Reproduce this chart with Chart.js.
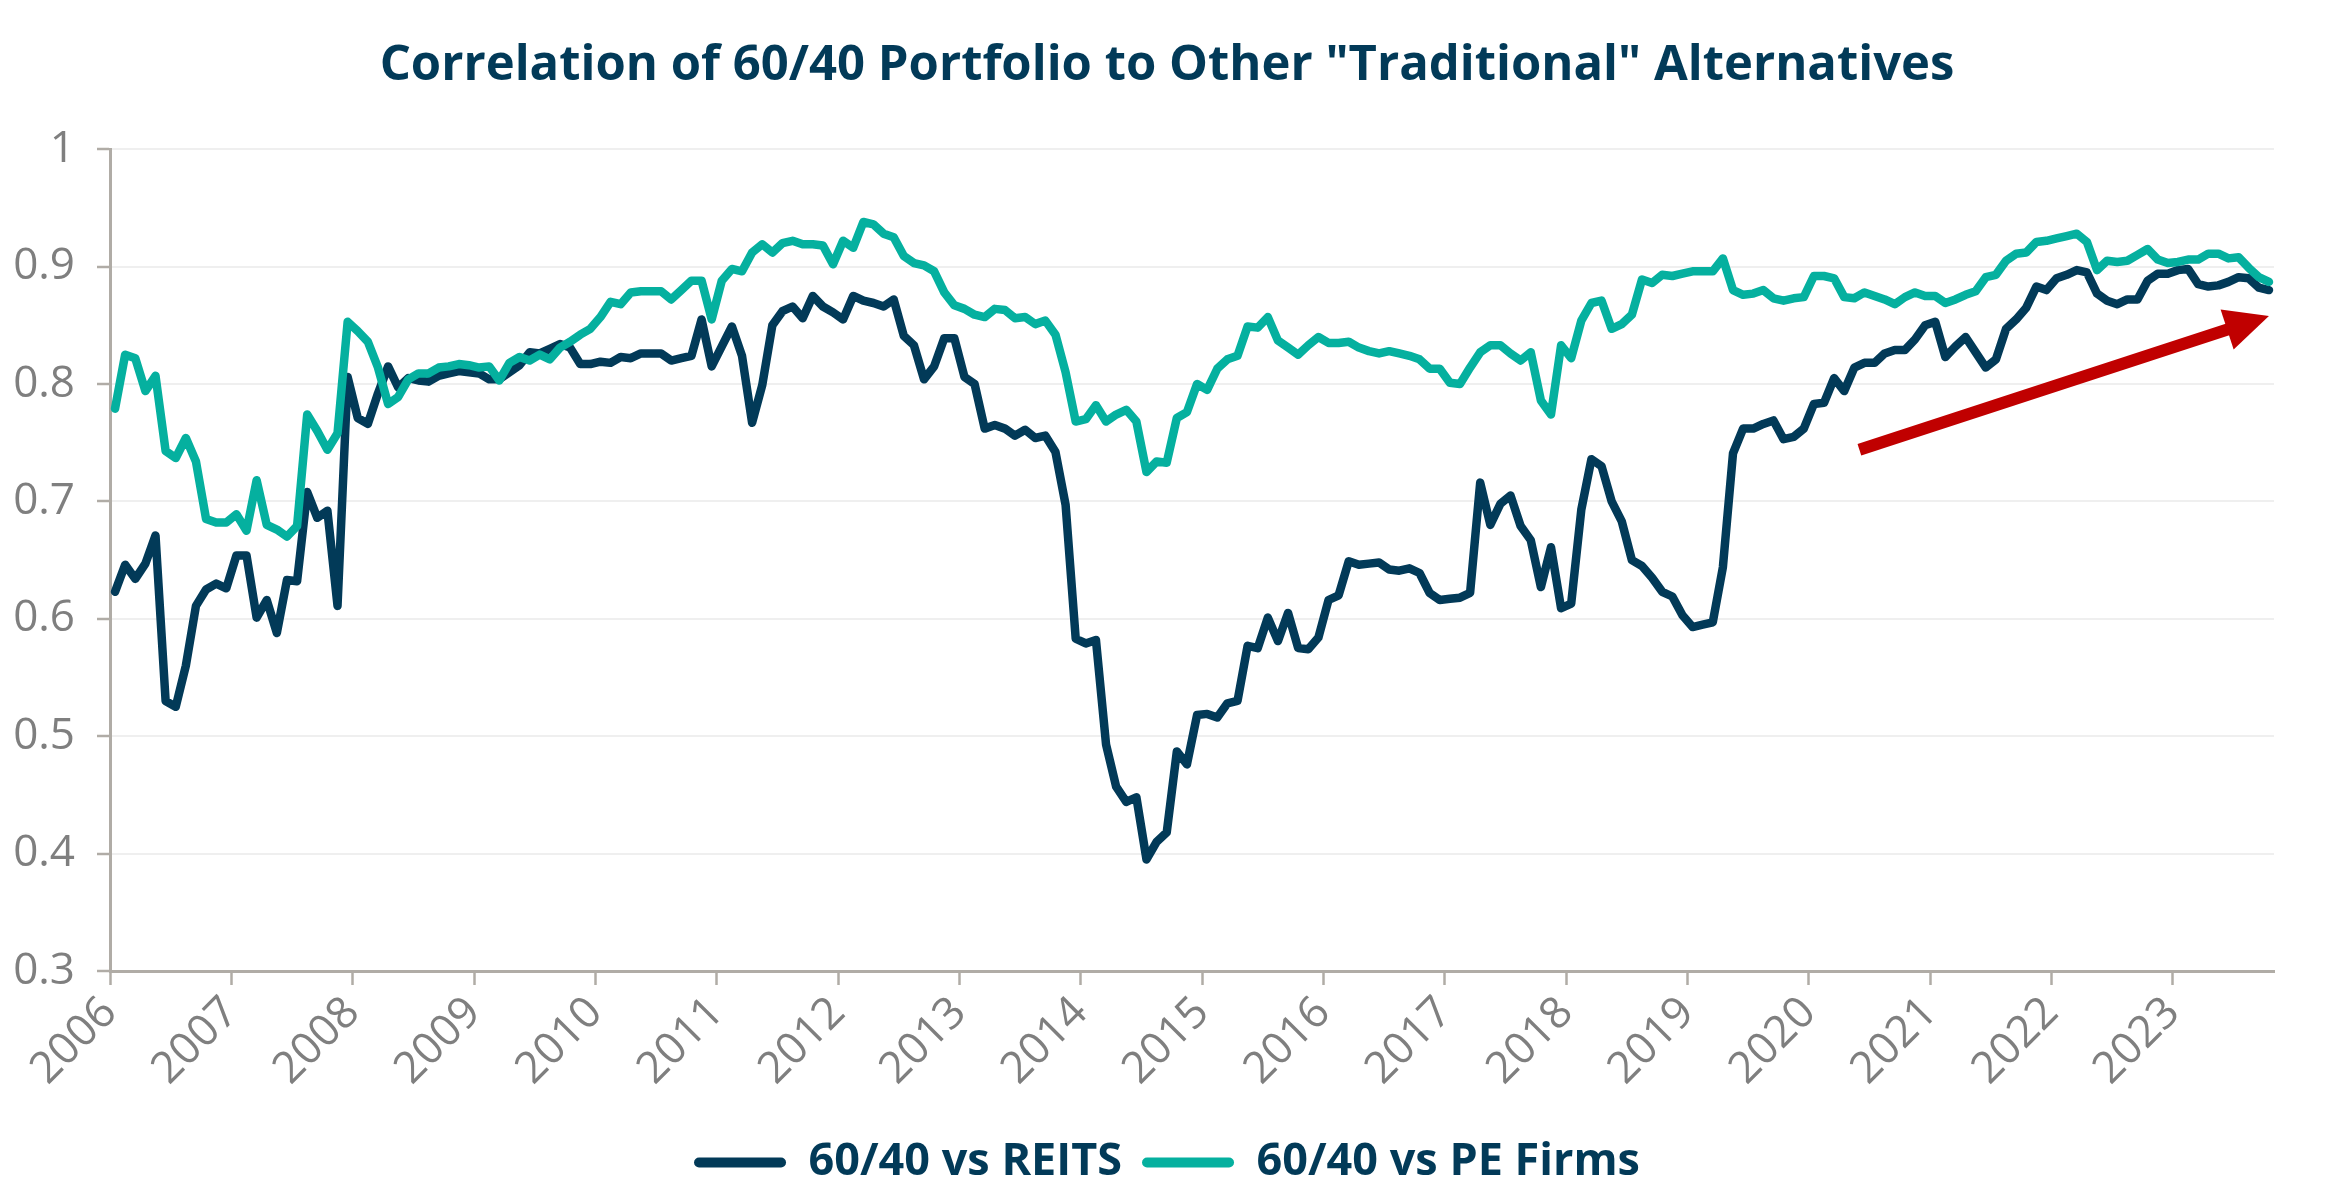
<!DOCTYPE html>
<html>
<head>
<meta charset="utf-8">
<script src="https://cdn.jsdelivr.net/npm/chart.js@4.4.0/dist/chart.umd.min.js"></script>
<style>
html, body { margin: 0; padding: 0; background: #ffffff; }
#wrap { width: 2334px; height: 1203px; }
</style>
</head>
<body>
<div id="wrap"><canvas id="chartCanvas" width="2334" height="1203"></canvas></div>
<script>
// year ticks sit on month offsets from Jan 2006
const yearLabels = ['2006','2007','2008','2009','2010','2011','2012','2013','2014',
                    '2015','2016','2017','2018','2019','2020','2021','2022','2023'];
const yearTicks = [0,12,24,36,48,60,72,84,96,108,120,132,144,156,168,180,192,204];

const yTicks = [0.3,0.4,0.5,0.6,0.7,0.8,0.9,1];
const yTickLabels = ['0.3','0.4','0.5','0.6','0.7','0.8','0.9','1'];

// monthly values, Jan 2006 .. Oct 2023
const reits = [
  0.623,0.646,0.634,0.647,0.671,0.530,0.525,0.560,0.611,0.625,0.630,0.626,
  0.654,0.654,0.601,0.616,0.588,0.633,0.632,0.708,0.686,0.692,0.611,0.806,
  0.771,0.766,0.792,0.815,0.797,0.805,0.803,0.802,0.807,0.809,0.811,0.810,
  0.809,0.804,0.804,0.810,0.816,0.827,0.826,0.830,0.834,0.831,0.817,0.817,
  0.819,0.818,0.823,0.822,0.826,0.826,0.826,0.820,0.822,0.824,0.855,0.815,
  0.832,0.849,0.824,0.767,0.799,0.850,0.862,0.866,0.856,0.875,0.866,0.861,
  0.855,0.875,0.871,0.869,0.866,0.872,0.841,0.833,0.804,0.815,0.839,0.839,
  0.806,0.800,0.762,0.765,0.762,0.756,0.761,0.754,0.756,0.742,0.697,0.583,
  0.579,0.582,0.493,0.457,0.444,0.448,0.395,0.410,0.418,0.487,0.476,0.518,
  0.519,0.516,0.528,0.530,0.577,0.575,0.601,0.581,0.605,0.575,0.574,0.584,
  0.616,0.620,0.649,0.646,0.647,0.648,0.642,0.641,0.643,0.639,0.622,0.616,
  0.617,0.618,0.622,0.716,0.680,0.698,0.705,0.679,0.667,0.627,0.661,0.609,
  0.613,0.693,0.736,0.730,0.700,0.683,0.650,0.645,0.635,0.623,0.619,0.603,
  0.593,0.595,0.597,0.644,0.741,0.762,0.762,0.766,0.769,0.753,0.755,0.762,
  0.783,0.784,0.805,0.794,0.814,0.818,0.818,0.826,0.829,0.829,0.838,0.850,
  0.853,0.823,0.832,0.840,0.827,0.814,0.821,0.847,0.855,0.865,0.883,0.880,
  0.890,0.893,0.897,0.895,0.877,0.871,0.868,0.872,0.872,0.888,0.894,0.894,
  0.897,0.898,0.885,0.883,0.884,0.887,0.891,0.890,0.882,0.880
];

const peFirms = [
  0.779,0.825,0.822,0.794,0.807,0.743,0.737,0.754,0.734,0.685,0.682,0.682,
  0.689,0.675,0.718,0.680,0.676,0.670,0.679,0.774,0.760,0.744,0.758,0.853,
  0.845,0.836,0.814,0.783,0.789,0.804,0.809,0.809,0.814,0.815,0.817,0.816,
  0.814,0.815,0.803,0.818,0.823,0.820,0.825,0.821,0.831,0.836,0.842,0.847,
  0.857,0.870,0.868,0.878,0.879,0.879,0.879,0.872,0.880,0.888,0.888,0.855,
  0.888,0.898,0.896,0.912,0.919,0.912,0.920,0.922,0.919,0.919,0.918,0.902,
  0.922,0.916,0.938,0.936,0.928,0.925,0.909,0.903,0.901,0.896,0.878,0.867,
  0.864,0.859,0.857,0.864,0.863,0.856,0.857,0.851,0.854,0.842,0.810,0.768,
  0.770,0.782,0.768,0.774,0.778,0.768,0.725,0.734,0.733,0.771,0.776,0.800,
  0.795,0.813,0.821,0.824,0.849,0.848,0.857,0.837,0.831,0.825,0.833,0.840,
  0.835,0.835,0.836,0.831,0.828,0.826,0.828,0.826,0.824,0.821,0.813,0.813,
  0.801,0.800,0.814,0.827,0.833,0.833,0.826,0.820,0.827,0.786,0.774,0.833,
  0.822,0.854,0.869,0.871,0.847,0.851,0.859,0.889,0.886,0.893,0.892,0.894,
  0.896,0.896,0.896,0.907,0.880,0.876,0.877,0.880,0.873,0.871,0.873,0.874,
  0.892,0.892,0.890,0.874,0.873,0.878,0.875,0.872,0.868,0.874,0.878,0.875,
  0.875,0.869,0.872,0.876,0.879,0.891,0.893,0.905,0.911,0.912,0.921,0.922,
  0.924,0.926,0.928,0.921,0.897,0.905,0.904,0.905,0.910,0.915,0.906,0.903,
  0.904,0.906,0.906,0.911,0.911,0.907,0.908,0.899,0.891,0.887
];

// red trend arrow, in chart units (month, correlation)
const arrowFrom = [173.0, 0.744];
const arrowTo = [213.5, 0.858];

const NAVY = '#023A58';
const TEAL = '#05B09F';
const AXIS = '#B0ACA6';

// each value sits in the middle of its month
function toPoints(values) {
    return values.map((v, i) => ({ x: i + 0.5, y: v }));
}

const arrowPlugin = {
    id: 'trendArrow',
    afterDatasetsDraw(chart) {
        const ctx = chart.ctx;
        const xs = chart.scales.x;
        const ys = chart.scales.y;
        const x0 = xs.getPixelForValue(arrowFrom[0]);
        const y0 = ys.getPixelForValue(arrowFrom[1]);
        const x1 = xs.getPixelForValue(arrowTo[0]);
        const y1 = ys.getPixelForValue(arrowTo[1]);
        const ang = Math.atan2(y1 - y0, x1 - x0);
        const headLen = 44, headHalf = 21;
        const bx = x1 - headLen * Math.cos(ang);
        const by = y1 - headLen * Math.sin(ang);

        ctx.save();
        ctx.strokeStyle = '#C00000';
        ctx.fillStyle = '#C00000';
        ctx.lineWidth = 12;
        ctx.beginPath();
        ctx.moveTo(x0, y0);
        ctx.lineTo(bx + 2 * Math.cos(ang), by + 2 * Math.sin(ang));
        ctx.stroke();
        ctx.beginPath();
        ctx.moveTo(x1, y1);
        ctx.lineTo(bx + headHalf * Math.sin(ang), by - headHalf * Math.cos(ang));
        ctx.lineTo(bx - headHalf * Math.sin(ang), by + headHalf * Math.cos(ang));
        ctx.closePath();
        ctx.fill();
        ctx.restore();
    }
};

const ctx = document.getElementById('chartCanvas');

new Chart(ctx, {
    type: 'line',
    data: {
        datasets: [
            {
                label: '60/40 vs REITS',
                data: toPoints(reits),
                borderColor: NAVY,
                borderWidth: 8.5,
                pointRadius: 0,
                tension: 0,
                borderJoinStyle: 'round',
                borderCapStyle: 'round',
                order: 2
            },
            {
                label: '60/40 vs PE Firms',
                data: toPoints(peFirms),
                borderColor: TEAL,
                borderWidth: 8.5,
                pointRadius: 0,
                tension: 0,
                borderJoinStyle: 'round',
                borderCapStyle: 'round',
                order: 1
            }
        ]
    },
    options: {
        responsive: false,
        animation: false,
        devicePixelRatio: 1,
        layout: { padding: { left: 0, right: 0, top: 0, bottom: 8 } },
        plugins: {
            title: {
                display: true,
                text: 'Correlation of 60/40 Portfolio to Other "Traditional" Alternatives',
                color: NAVY,
                font: { family: 'Open Sans', size: 49, weight: 'bold' },
                padding: { top: 37, bottom: 53.4 }
            },
            legend: {
                position: 'bottom',
                labels: {
                    font: { family: 'Open Sans', size: 45, weight: 'bold' },
                    color: NAVY,
                    boxWidth: 92,
                    boxHeight: 10,
                    padding: 20,
                    useBorderRadius: true,
                    borderRadius: 5,
                    generateLabels(chart) {
                        return chart.data.datasets.map((ds, i) => ({
                            text: ds.label,
                            fillStyle: ds.borderColor,
                            strokeStyle: ds.borderColor,
                            lineWidth: 0,
                            fontColor: NAVY,
                            borderRadius: 5,
                            datasetIndex: i
                        }));
                    }
                }
            },
            tooltip: { enabled: false }
        },
        scales: {
            x: {
                type: 'linear',
                min: 0,
                max: 214,
                afterBuildTicks(scale) {
                    scale.ticks = yearTicks.map(v => ({ value: v }));
                },
                afterFit(scale) {
                    scale.height = 149;
                },
                ticks: {
                    minRotation: 45,
                    maxRotation: 45,
                    padding: 2,
                    color: '#7F7F7F',
                    font: { family: 'Open Sans', size: 44 },
                    callback(value, index) {
                        return yearLabels[index];
                    }
                },
                grid: {
                    display: true,
                    drawOnChartArea: false,
                    drawTicks: true,
                    tickLength: 14,
                    tickColor: AXIS,
                    tickWidth: 2.5
                },
                border: { display: true, color: AXIS, width: 3 }
            },
            y: {
                min: 0.3,
                max: 1,
                afterBuildTicks(scale) {
                    scale.ticks = yTicks.map(v => ({ value: v }));
                },
                afterFit(scale) {
                    scale.width = 110;
                },
                ticks: {
                    padding: 22,
                    color: '#7F7F7F',
                    font: { family: 'Open Sans', size: 44 },
                    callback(value, index) {
                        return yTickLabels[index];
                    }
                },
                grid: {
                    color: '#EFEFEF',
                    lineWidth: 2,
                    drawTicks: true,
                    tickLength: 13,
                    tickColor: AXIS,
                    tickWidth: 2.5
                },
                border: { display: true, color: AXIS, width: 3 }
            },
            // empty margin on the right so title and legend stay centred on the page
            yRight: {
                type: 'linear',
                position: 'right',
                display: true,
                ticks: { display: false },
                grid: { display: false, drawTicks: false },
                border: { display: false },
                afterFit(scale) {
                    scale.width = 60;
                }
            }
        }
    },
    plugins: [arrowPlugin]
});
</script>
</body>
</html>
